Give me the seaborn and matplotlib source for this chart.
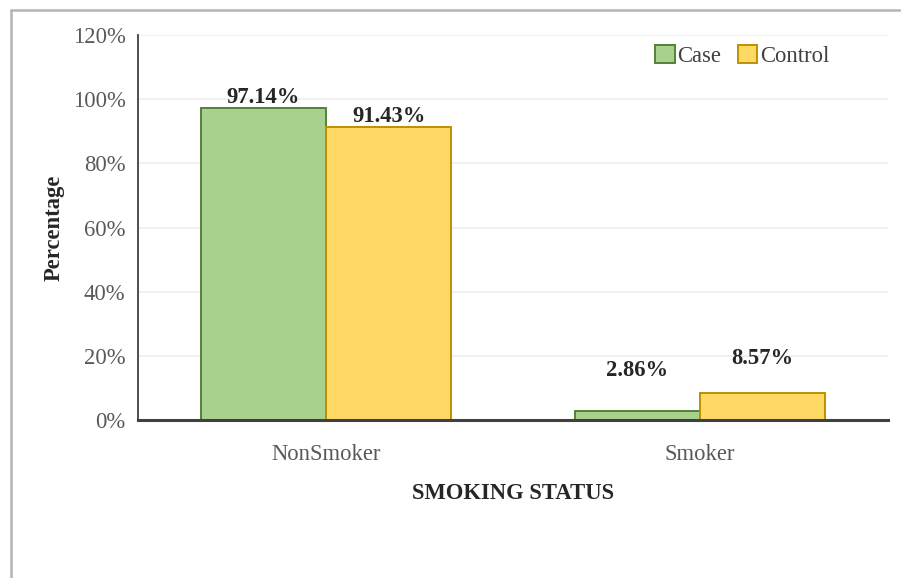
import matplotlib
matplotlib.use("Agg")
import matplotlib.pyplot as plt
from matplotlib.lines import Line2D
from matplotlib.patches import Patch
import seaborn as sns
import pandas as pd

# Smoking status by group (percent of each group)
categories = ["NonSmoker", "Smoker"]
groups = ["Case", "Control"]
case_pct = [97.14, 2.86]
control_pct = [91.43, 8.57]
y_ticks = [0, 20, 40, 60, 80, 100, 120]

df = pd.DataFrame({
    "status": categories * 2,
    "group": [groups[0]] * len(categories) + [groups[1]] * len(categories),
    "pct": case_pct + control_pct,
})

fills = {"Case": "#A9D18E", "Control": "#FFD966"}
edges = {"Case": "#548235", "Control": "#BF9000"}

sns.set_theme(style="white")
plt.rcParams["font.family"] = ["Liberation Serif", "DejaVu Serif"]

FS = 16.3

fig = plt.figure(figsize=(9.01, 5.78), dpi=100)
ax = fig.add_axes([138 / 901, 1 - 420 / 578, 750 / 901, 385 / 578])

sns.barplot(data=df, x="status", y="pct", hue="group", order=categories,
            hue_order=groups, palette=fills, width=0.67, saturation=1,
            legend=False, ax=ax)

# edge colours per group and value labels
for container, grp in zip(ax.containers, groups):
    for bar in container:
        bar.set_edgecolor(edges[grp])
        bar.set_linewidth(1.4)

label_offsets = {("Case", 0): 0, ("Control", 0): 0,
                 ("Case", 1): 30, ("Control", 1): 24}
for container, grp, vals in zip(ax.containers, groups, [case_pct, control_pct]):
    for i, (bar, v) in enumerate(zip(container, vals)):
        ax.annotate(f"{v:.2f}%", (bar.get_x() + bar.get_width() / 2, v),
                    xytext=(0, label_offsets[(grp, i)] * 0.72),
                    textcoords="offset points", ha="center", va="bottom",
                    fontsize=FS, fontweight="bold", color="#262626")

ax.set_xlim(-0.503, 1.503)
ax.set_ylim(0, 120)
ax.set_yticks(y_ticks)
ax.set_yticklabels([f"{t}%" for t in y_ticks])
ax.yaxis.grid(True, color="#eeeeee", linewidth=1.2)
ax.set_axisbelow(True)

ax.tick_params(axis="y", length=0, pad=9, labelsize=FS, labelcolor="#595959")
ax.tick_params(axis="x", length=0, pad=17.5, labelsize=FS, labelcolor="#595959")

for side in ("top", "right"):
    ax.spines[side].set_visible(False)
ax.spines["left"].set_color("#404040")
ax.spines["left"].set_linewidth(1.3)
ax.spines["bottom"].set_color("#404040")
ax.spines["bottom"].set_linewidth(2.2)

ax.set_xlabel("SMOKING STATUS", fontsize=FS, fontweight="bold", color="#262626",
              labelpad=12.5)
ax.set_ylabel("Percentage", fontsize=FS, fontweight="bold", color="#262626",
              labelpad=6)

handles = [Patch(facecolor=fills[g], edgecolor=edges[g], linewidth=1.4, label=g)
           for g in groups]
ax.legend(handles=handles, loc="upper right", bbox_to_anchor=(0.94, 1.01),
          ncol=2, frameon=False, fontsize=FS, handlelength=0.85,
          handleheight=0.85, handletextpad=0.12, columnspacing=0.75,
          labelcolor="#404040", borderaxespad=0.2)

# outer frame lines along the top and left edges
fig.add_artist(Line2D([11 / 901, 1], [1 - 10 / 578, 1 - 10 / 578],
                      transform=fig.transFigure, color="#b4b4b4", linewidth=1.8))
fig.add_artist(Line2D([11 / 901, 11 / 901], [0, 1 - 10 / 578],
                      transform=fig.transFigure, color="#b4b4b4", linewidth=1.8))

fig.savefig("out.png", dpi=100)
